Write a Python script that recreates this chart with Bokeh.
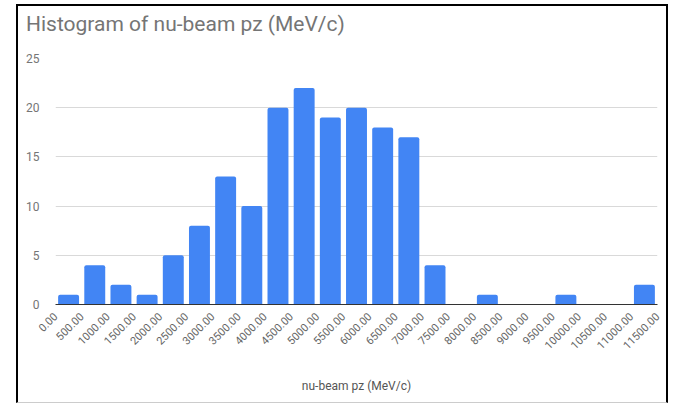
from bokeh.plotting import figure
from bokeh.models import Range1d, FixedTicker, Div
from bokeh.layouts import column
from bokeh.embed import file_html
from bokeh.resources import INLINE
import math

bin_edges = [0, 500, 1000, 1500, 2000, 2500, 3000, 3500, 4000, 4500, 5000, 5500,
             6000, 6500, 7000, 7500, 8000, 8500, 9000, 9500, 10000, 10500, 11000, 11500]
counts = [1, 4, 2, 1, 5, 8, 13, 10, 20, 22, 19, 20, 18, 17, 4, 0, 1, 0, 0, 1, 0, 0, 2]
y_ticks = [0, 5, 10, 15, 20, 25]
title_text = "Histogram of nu-beam pz (MeV/c)"

FONT = "Roboto"
W = 648
TITLE_H = 44
H = 352

title = Div(text=f'<div style="font-family: Roboto; font-size: 21px; color: #757575; '
                 f'line-height: 25px; padding: 6px 0 0 8px; white-space: nowrap;">{title_text}</div>',
            width=W, height=TITLE_H, margin=0)

p = figure(width=W, height=H, output_backend="svg", toolbar_location=None,
           x_range=Range1d(0, 11500), y_range=Range1d(0, 25), margin=0,
           min_border_left=37, min_border_right=9, min_border_top=8, min_border_bottom=98)
p.title = None

lefts = bin_edges[:-1]
rights = bin_edges[1:]
gap = 50
q = p.quad(left=[l + gap for l in lefts], right=[r - gap for r in rights],
           top=counts, bottom=[0] * len(counts),
           fill_color="#4285F4", line_color=None)
try:
    q.glyph.border_radius = [2, 2, 0, 0]
except Exception:
    pass

p.outline_line_color = None
p.background_fill_color = "white"
p.border_fill_color = "white"

p.xgrid.grid_line_color = None
p.ygrid.grid_line_color = "#d9d9d9"
p.ygrid.ticker = FixedTicker(ticks=y_ticks)

p.xaxis.ticker = FixedTicker(ticks=bin_edges)
p.xaxis.major_label_overrides = {e: f"{e:.2f}" for e in bin_edges}
p.xaxis.major_label_orientation = math.pi / 4
p.xaxis.major_label_text_font = FONT
p.xaxis.major_label_text_font_size = "11px"
p.xaxis.major_label_text_color = "#666666"
p.xaxis.axis_line_color = "#333333"
p.xaxis.major_tick_line_color = None
p.xaxis.minor_tick_line_color = None
p.xaxis.major_label_standoff = 4
p.xaxis.axis_label = "nu-beam pz (MeV/c)"
p.xaxis.axis_label_text_font = FONT
p.xaxis.axis_label_text_font_size = "12px"
p.xaxis.axis_label_text_font_style = "normal"
p.xaxis.axis_label_text_color = "#555555"
p.xaxis.axis_label_standoff = 23

p.yaxis.ticker = FixedTicker(ticks=y_ticks)
p.yaxis.axis_line_color = None
p.yaxis.major_tick_line_color = None
p.yaxis.minor_tick_line_color = None
p.yaxis.major_label_text_font = FONT
p.yaxis.major_label_text_font_size = "12px"
p.yaxis.major_label_text_color = "#757575"
p.yaxis.major_label_standoff = 10

layout = column(title, p, spacing=0,
                styles={"margin-left": "16px", "margin-top": "4px", "background": "white",
                        "border-left": "2px solid black", "border-top": "2px solid black",
                        "border-right": "2px solid black", "border-bottom": "1px solid #cccccc"})

open("out.html", "w").write(file_html(layout, INLINE))
